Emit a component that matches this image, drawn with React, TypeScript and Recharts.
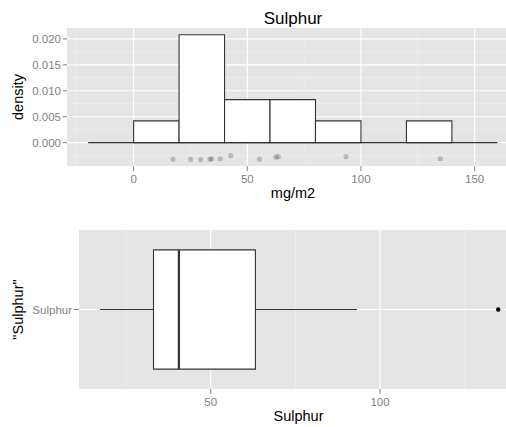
import { ComposedChart, XAxis, YAxis, CartesianGrid, ReferenceArea, ReferenceLine, Scatter } from 'recharts';

// histogram of Sulphur (density, binwidth 20)
const binStarts = [0, 20, 40, 60, 80, 100, 120];
const binDensity = [0.0042, 0.0208, 0.0083, 0.0083, 0.0042, 0, 0.0042];
const binWidth = 20;
const histRange = [-20, 160];

// raw observations, drawn jittered under the histogram
const sulphur = [17.3, 25.1, 29.5, 33.6, 34.3, 38.1, 42.7, 55.4, 62.6, 63.6, 93.4, 134.9];
const jitter = [-0.0032, -0.0032, -0.0033, -0.0032, -0.0031, -0.0031, -0.0025, -0.0032, -0.0028, -0.0027, -0.0027, -0.0031];

const densityTicks = [0, 0.005, 0.01, 0.015, 0.02];
const densityMinor = [-0.0025, 0.0025, 0.0075, 0.0125, 0.0175];
const mgTicks = [0, 50, 100, 150];
const mgMinor = [-25, 25, 75, 125];

// boxplot: lower whisker, q1, median, q3, upper whisker
const boxStats = [17.3, 33.1, 40.6, 63.2, 93.2];
const boxOutliers = [134.9];
const boxTicks = [50, 100];
const boxMinor = [25, 75, 125];
const boxCategory = 'Sulphur';

const grey = '#7f7f7f';
const dark = '#333333';
const font = '"Liberation Sans", Arial, Helvetica, sans-serif';
const tickStyle = { fill: grey, fontSize: 11.5, fontFamily: font };

function Histogram() {
  const points = sulphur.map((x, i) => ({ x, y: jitter[i] }));
  return (
    <ComposedChart width={506} height={210} margin={{ top: 28, right: 0, bottom: 0, left: 0 }}>
      <CartesianGrid fill="#e5e5e5" stroke="#f2f2f2" strokeWidth={0.6} verticalValues={mgMinor} horizontalValues={densityMinor} />
      <CartesianGrid stroke="#ffffff" strokeWidth={1.1} verticalValues={mgTicks} horizontalValues={densityTicks} />
      <XAxis dataKey="x" type="number" domain={[-29.3, 163.8]} ticks={mgTicks} allowDataOverflow stroke={grey}
        height={44} tickSize={5} tickMargin={4} tick={tickStyle} tickLine={{ stroke: grey }} axisLine={false} />
      <YAxis dataKey="y" type="number" domain={[-0.0045, 0.0221]} ticks={densityTicks} allowDataOverflow stroke={grey}
        width={67} tickSize={4} tickMargin={2} tick={tickStyle} tickLine={{ stroke: grey }} axisLine={false}
        tickFormatter={(v: number) => v.toFixed(3)} />
      {binStarts.map((s, i) =>
        binDensity[i] > 0 ? (
          <ReferenceArea key={s} x1={s} x2={s + binWidth} y1={0} y2={binDensity[i]}
            fill="#ffffff" fillOpacity={1} stroke={dark} strokeOpacity={1} strokeWidth={1.1} />
        ) : null
      )}
      <ReferenceLine segment={[{ x: histRange[0], y: 0 }, { x: histRange[1], y: 0 }]} stroke={dark} strokeWidth={1.1} />
      <Scatter data={points} dataKey="y" isAnimationActive={false}
        shape={(p: any) => <circle cx={p.cx} cy={p.cy} r={2.6} fill="#000" fillOpacity={0.2} />} />
    </ComposedChart>
  );
}

function Boxplot() {
  const outliers = boxOutliers.map((x) => ({ x, y: 1 }));
  const [lo, q1, med, q3, hi] = boxStats;
  return (
    <ComposedChart width={506} height={212} margin={{ top: 15, right: 0, bottom: 0, left: 0 }}>
      <CartesianGrid fill="#e5e5e5" stroke="#f2f2f2" strokeWidth={0.6} verticalValues={boxMinor} horizontal={false} />
      <CartesianGrid stroke="#ffffff" strokeWidth={1.1} verticalValues={boxTicks} horizontalValues={[1]} />
      <XAxis dataKey="x" type="number" domain={[11.1, 137.2]} ticks={boxTicks} allowDataOverflow stroke={grey}
        height={38} tickSize={5} tickMargin={4} tick={tickStyle} tickLine={{ stroke: grey }} axisLine={false} />
      <YAxis dataKey="y" type="number" domain={[0.4, 1.6]} ticks={[1]} allowDataOverflow stroke={grey}
        width={79} tickSize={5} tickMargin={2} tick={tickStyle} tickLine={{ stroke: grey }} axisLine={false}
        tickFormatter={() => boxCategory} />
      <ReferenceLine segment={[{ x: lo, y: 1 }, { x: q1, y: 1 }]} stroke={dark} strokeWidth={1.1} />
      <ReferenceLine segment={[{ x: q3, y: 1 }, { x: hi, y: 1 }]} stroke={dark} strokeWidth={1.1} />
      <ReferenceArea x1={q1} x2={q3} y1={0.55} y2={1.45}
        fill="#ffffff" fillOpacity={1} stroke={dark} strokeOpacity={1} strokeWidth={1.1} />
      <ReferenceLine segment={[{ x: med, y: 0.55 }, { x: med, y: 1.45 }]} stroke={dark} strokeWidth={2.2} />
      <Scatter data={outliers} dataKey="y" isAnimationActive={false}
        shape={(p: any) => <circle cx={p.cx} cy={p.cy} r={2.2} fill="#000" />} />
    </ComposedChart>
  );
}

export default function App() {
  const titleStyle = { fontFamily: font, fill: '#000' };
  return (
    <div style={{ position: 'absolute', left: 0, top: 0, width: 506, height: 427, overflow: 'hidden', background: '#fff' }}>
      <div style={{ position: 'absolute', left: 0, top: 0 }}>
        <Histogram />
      </div>
      <div style={{ position: 'absolute', left: 0, top: 215 }}>
        <Boxplot />
      </div>
      <svg width={506} height={427} style={{ position: 'absolute', left: 0, top: 0, pointerEvents: 'none' }}>
        <text x={293} y={24} textAnchor="middle" fontSize={17} style={titleStyle}>Sulphur</text>
        <text x={293} y={198} textAnchor="middle" fontSize={14.5} style={titleStyle}>mg/m2</text>
        <text transform="translate(23,97) rotate(-90)" textAnchor="middle" fontSize={14.5} style={titleStyle}>density</text>
        <text x={298.5} y={421} textAnchor="middle" fontSize={14.5} style={titleStyle}>Sulphur</text>
        <text transform="translate(23,309.5) rotate(-90)" textAnchor="middle" fontSize={14.5} style={titleStyle}>"Sulphur"</text>
      </svg>
    </div>
  );
}
